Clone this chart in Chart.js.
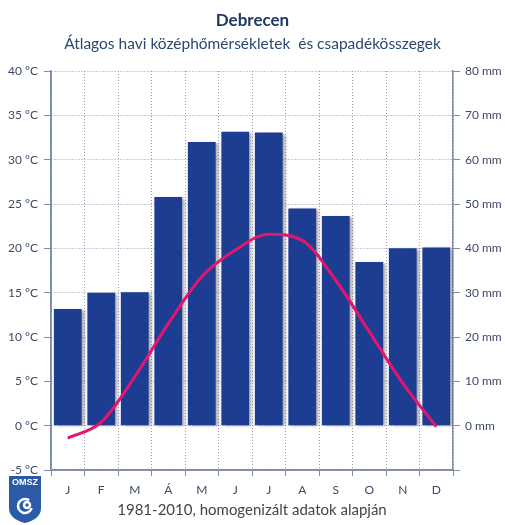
<!DOCTYPE html>
<html>
<head>
<meta charset="utf-8">
<script src="https://cdn.jsdelivr.net/npm/chart.js@4"></script>
<style>
  html, body { margin: 0; padding: 0; background: #fff; }
  #wrap { width: 505px; height: 525px; position: relative; }
</style>
</head>
<body>
<div id="wrap"><canvas id="chartDebrecen"></canvas></div>
<script>
// adatok
const honapok = ['J', 'F', 'M', 'Á', 'M', 'J', 'J', 'A', 'S', 'O', 'N', 'D'];
const csapadek = [26.3, 30.0, 30.1, 51.6, 64.0, 66.3, 66.1, 49.0, 47.3, 36.9, 40.0, 40.2]; // mm
const homerseklet = [-1.4, 0.4, 5.5, 11.5, 16.8, 19.8, 21.6, 20.9, 16.4, 10.6, 4.8, -0.1]; // °C

const szovegSzin = '#3d4a66';
const racsSzin = '#8e9ebb';
const tengelySzin = '#7d8ba5';

// arnyek a oszlopok mogott
const arnyek = {
	id: 'arnyek',
	beforeDatasetDraw(chart, args) {
		if (args.meta.type !== 'bar') return;
		const ctx = chart.ctx;
		ctx.save();
		ctx.shadowColor = 'rgba(60,60,70,0.45)';
		ctx.shadowOffsetX = 3;
		ctx.shadowOffsetY = 1;
		ctx.shadowBlur = 3;
	},
	afterDatasetDraw(chart, args) {
		if (args.meta.type !== 'bar') return;
		chart.ctx.restore();
	}
};

// tomor tengelyvonalak bal oldalt es alul
const tengelyek = {
	id: 'tengelyek',
	afterDraw(chart) {
		const {ctx, chartArea: a} = chart;
		ctx.save();
		ctx.strokeStyle = tengelySzin;
		ctx.lineWidth = 1.5;
		ctx.setLineDash([]);
		ctx.beginPath();
		ctx.moveTo(a.left, a.top);
		ctx.lineTo(a.left, a.bottom);
		ctx.lineTo(a.right, a.bottom);
		ctx.stroke();
		ctx.restore();
	}
};

// OMSZ logo bal alul
const logo = {
	id: 'logo',
	afterDraw(chart) {
		const ctx = chart.ctx;
		ctx.save();
		ctx.fillStyle = '#2b5aa6';
		ctx.beginPath();
		ctx.moveTo(9, 476);
		ctx.lineTo(41, 476);
		ctx.lineTo(41, 508);
		ctx.quadraticCurveTo(41, 519, 25, 523);
		ctx.quadraticCurveTo(9, 519, 9, 508);
		ctx.closePath();
		ctx.fill();
		ctx.fillStyle = '#fff';
		ctx.font = 'bold 9px "Liberation Sans"';
		ctx.textAlign = 'center';
		ctx.textBaseline = 'middle';
		ctx.fillText('OMSZ', 25, 483);
		ctx.strokeStyle = '#fff';
		ctx.lineWidth = 2.5;
		ctx.beginPath();
		ctx.arc(25, 506, 7, 0.3, Math.PI * 1.7);
		ctx.stroke();
		ctx.beginPath();
		ctx.arc(27, 505, 3, 0, Math.PI * 2);
		ctx.stroke();
		ctx.restore();
	}
};

const chartDebrecen = new Chart(
	document.getElementById('chartDebrecen'),
	{
		data: {
			labels: honapok,
			datasets: [{
				type: 'line',
				label: 'Középhőmérséklet',
				data: homerseklet,
				yAxisID: 'yHo',
				borderColor: '#e3166f',
				borderWidth: 3,
				pointRadius: 0,
				cubicInterpolationMode: 'monotone',
				order: 0
			}, {
				type: 'bar',
				label: 'Csapadék',
				data: csapadek,
				yAxisID: 'yCsap',
				backgroundColor: '#1d3d92',
				barPercentage: 0.83,
				categoryPercentage: 1,
				order: 1
			}]
		},
		options: {
			responsive: true,
			maintainAspectRatio: false,
			animation: false,
			layout: { padding: 0 },
			plugins: {
				legend: { display: false },
				tooltip: { enabled: false },
				title: {
					display: true,
					text: 'Debrecen',
					color: '#1f3a63',
					font: { family: 'Lato', size: 17, weight: 'bold' },
					padding: { top: 10, bottom: 3 }
				},
				subtitle: {
					display: true,
					text: 'Átlagos havi középhőmérsékletek  és csapadékösszegek',
					color: '#2a4870',
					font: { family: 'Lato', size: 15.5 },
					padding: { top: 1, bottom: 18 }
				}
			},
			scales: {
				x: {
					grid: {
						color: racsSzin,
						offset: true,
						tickLength: 6,
						tickColor: tengelySzin
					},
					border: { color: tengelySzin, width: 1.5, dash: [1, 2] },
					ticks: { color: szovegSzin, font: { family: 'Lato', size: 12 }, padding: 7 },
					title: {
						display: true,
						text: '1981-2010, homogenizált adatok alapján',
						color: '#454545',
						font: { family: 'Lato', size: 15 },
						padding: { top: 0, bottom: 6 }
					},
					afterFit: (scale) => { scale.height = 55; }
				},
				yHo: {
					position: 'left',
					min: -5,
					max: 40,
					grid: {
						color: racsSzin,
						tickLength: 7,
						tickColor: tengelySzin
					},
					border: { color: tengelySzin, width: 1.5, dash: [1, 2] },
					ticks: {
						stepSize: 5,
						color: szovegSzin,
						font: { family: 'Lato', size: 12 },
						padding: 6,
						callback: (v) => v + ' °C'
					},
					afterFit: (scale) => { scale.width = 51; }
				},
				yCsap: {
					position: 'right',
					min: -10,
					max: 80,
					grid: {
						drawOnChartArea: false,
						tickLength: 7,
						tickColor: tengelySzin
					},
					border: { color: tengelySzin, width: 1.5 },
					ticks: {
						stepSize: 10,
						color: szovegSzin,
						font: { family: 'Lato', size: 12 },
						padding: 5,
						callback: (v) => v < 0 ? '' : v + ' mm'
					},
					afterFit: (scale) => { scale.width = 52; }
				}
			}
		},
		plugins: [arnyek, tengelyek, logo]
	}
);
</script>
</body>
</html>
